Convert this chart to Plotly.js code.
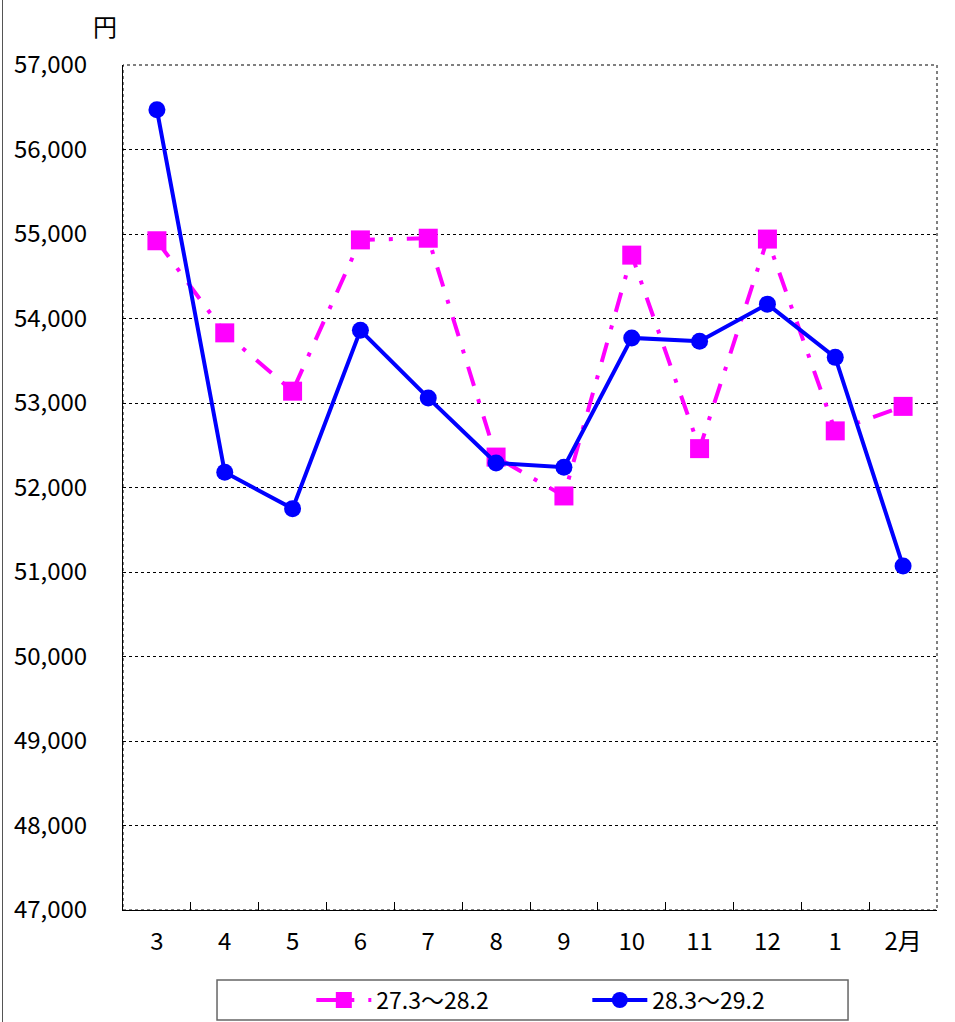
<!DOCTYPE html>
<html>
<head>
<meta charset="utf-8">
<script src="https://cdn.plot.ly/plotly-3.0.1.min.js"></script>
<style>
html,body{margin:0;padding:0;background:#fff;}
#chart{width:955px;height:1022px;position:relative;}
#edge{position:absolute;left:2px;top:0;width:1px;height:1022px;background:#555;}
</style>
</head>
<body>
<div id="chart"></div>
<div id="edge"></div>
<script>
const months = ['3','4','5','6','7','8','9','10','11','12','1','2月'];
const seriesA_name = '27.3～28.2';
const seriesA = [54920, 53830, 53140, 54930, 54950, 52360, 51900, 54750, 52460, 54940, 52670, 52960];
const seriesB_name = '28.3～29.2';
const seriesB = [56470, 52180, 51750, 53860, 53060, 52290, 52240, 53770, 53730, 54170, 53540, 51070];
const yTicks = [47000,48000,49000,50000,51000,52000,53000,54000,55000,56000,57000];

const font = '"Noto Sans CJK JP", "DejaVu Sans", sans-serif';

const traces = [
  {x: months, y: seriesA, name: seriesA_name, type: 'scatter', mode: 'lines+markers',
   line: {color: '#FF00FF', width: 4, dash: '20px,14px,4px,14px'},
   marker: {symbol: 'square', size: 19, color: '#FF00FF'}},
  {x: months, y: seriesB, name: seriesB_name, type: 'scatter', mode: 'lines+markers',
   line: {color: '#0000FF', width: 4},
   marker: {symbol: 'circle', size: 17, color: '#0000FF'}}
];

const layout = {
  width: 955, height: 1022,
  margin: {l: 123, r: 18, t: 65, b: 112},
  paper_bgcolor: '#fff', plot_bgcolor: '#fff',
  font: {family: font, color: '#000', size: 20},
  showlegend: true,
  legend: {orientation: 'h', x: 0.615, xref: 'container', xanchor: 'center',
           y: 0.0215, yref: 'container', yanchor: 'middle',
           font: {family: font, size: 23, color: '#000'}, bgcolor: 'rgba(0,0,0,0)',
           entrywidth: 206, itemwidth: 55},
  xaxis: {type: 'category', range: [-0.5, 11.5], tickson: 'boundaries', ticks: 'inside', ticklen: 8, tickcolor: '#000',
          showline: true, linecolor: '#000', linewidth: 1, showgrid: false, zeroline: false,
          ticklabelstandoff: 10, tickfont: {family: font, size: 24}, fixedrange: true},
  yaxis: {range: [47000, 57000], tickvals: yTicks, tickformat: ',', ticks: '',
          showline: true, linecolor: '#000', linewidth: 1,
          showgrid: true, gridcolor: '#000', gridwidth: 1, griddash: 'dot', zeroline: false,
          ticklabelstandoff: 30, tickfont: {family: font, size: 24}, fixedrange: true},
  shapes: [
    {type: 'rect', xref: 'paper', yref: 'paper', x0: 0, x1: 1, y0: 0, y1: 1,
     line: {color: '#000', width: 1, dash: 'dot'}, layer: 'below'},
    {type: 'rect', xref: 'paper', yref: 'paper', x0: 0.1155, x1: 0.8907, y0: -0.1302, y1: -0.0828,
     line: {color: '#666', width: 1.5}}
  ],
  annotations: [
    {text: '円', xref: 'paper', yref: 'paper', x: -0.022, y: 1.047, xanchor: 'center', yanchor: 'middle',
     showarrow: false, font: {family: font, size: 24, color: '#000'}}
  ]
};

Plotly.newPlot('chart', traces, layout, {displayModeBar: false, staticPlot: true});
</script>
</body>
</html>
